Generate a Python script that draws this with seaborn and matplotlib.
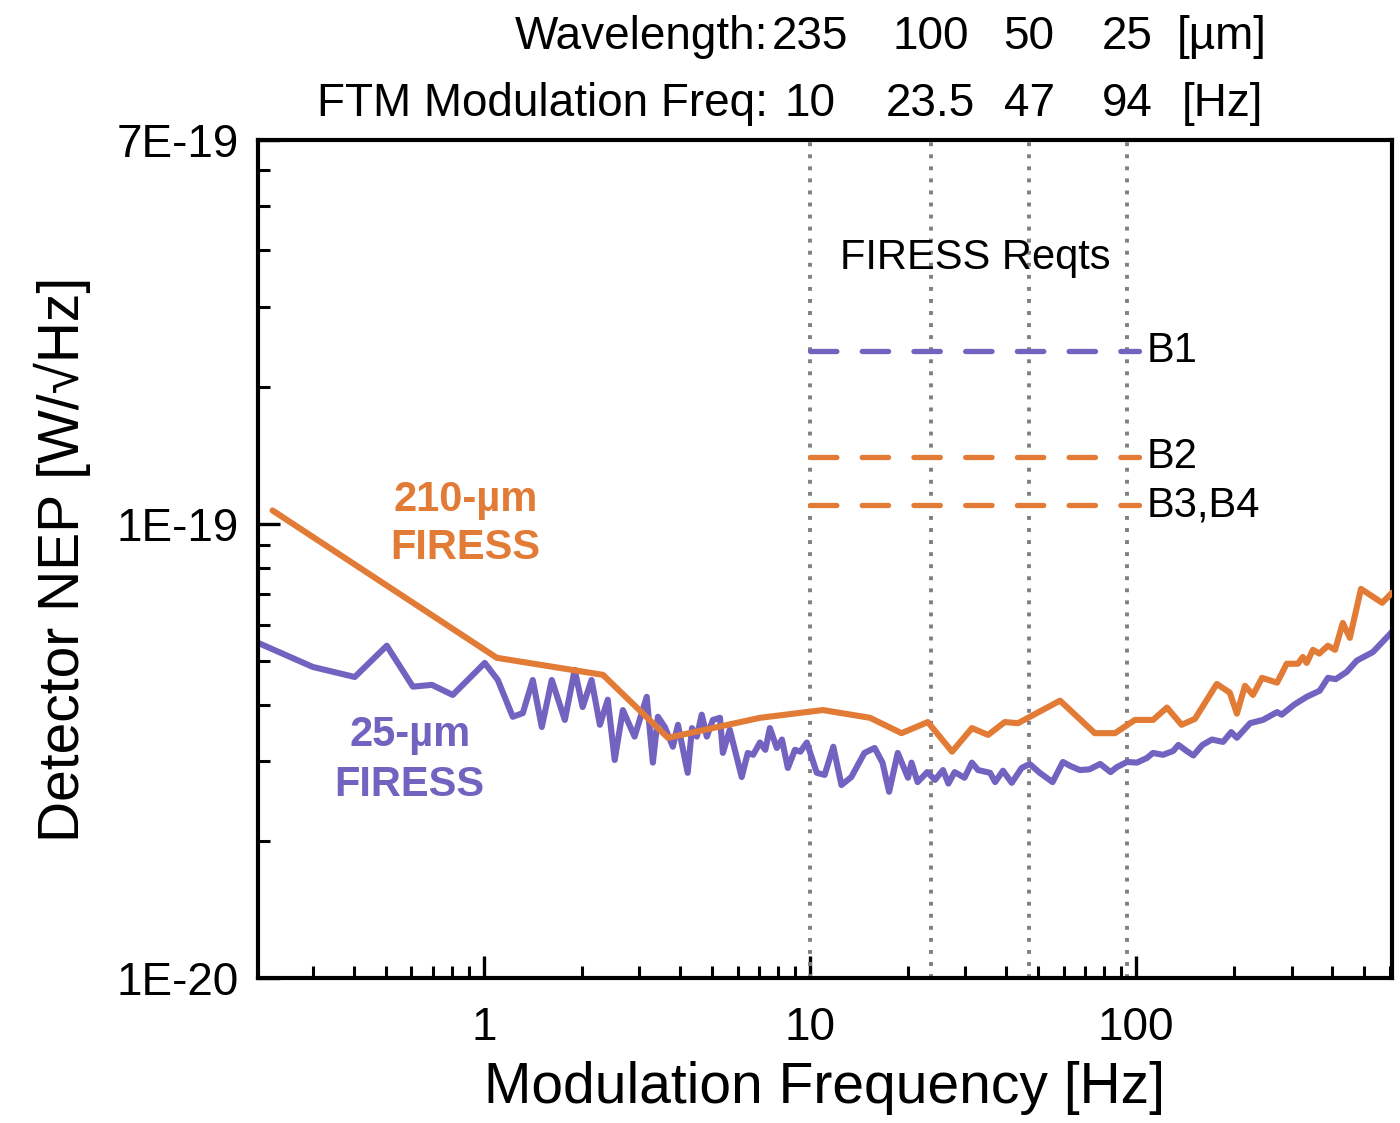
import numpy as np
import pandas as pd
import matplotlib
matplotlib.use("Agg")
import matplotlib.pyplot as plt
import seaborn as sns
from matplotlib.ticker import FixedLocator, FixedFormatter, LogLocator, NullFormatter
import matplotlib.transforms as mtransforms

# ---------------- data ----------------
freq_25um = [0.203, 0.299, 0.402, 0.504, 0.606, 0.693, 0.803, 1.007, 1.104, 1.227,
             1.317, 1.413, 1.506, 1.616, 1.772, 1.90, 2.01, 2.14, 2.27, 2.40,
             2.52, 2.67, 2.90, 3.16, 3.30, 3.42, 3.59, 3.80, 3.94, 4.22,
             4.35, 4.5, 4.66, 4.83, 5.04, 5.30, 5.41, 5.68, 6.18, 6.45,
             6.7, 7.03, 7.3, 7.54, 7.92, 8.21, 8.56, 9.0, 9.35, 9.79,
             10.5, 11.1, 11.8, 12.5, 13.4, 14.7, 15.8, 16.7, 17.5, 18.6,
             20.0, 20.5, 21.4, 22.9, 24.2, 25.6, 26.6, 27.8, 29.8, 31.4,
             32.8, 35.7, 37.0, 39.1, 41.6, 44.6, 47.2, 50.7, 55.5, 59.7,
             62.9, 67.3, 72.0, 77.7, 83.6, 87.2, 93.9, 100.7, 108, 112.8,
             121, 130, 135, 144, 150, 160, 171, 185, 196, 204,
             224, 245, 271, 280, 306, 334, 366, 388, 410, 443,
             476, 533, 610]
nep_25um = [0.547, 0.484, 0.460, 0.539, 0.438, 0.442, 0.420, 0.494, 0.453, 0.376,
            0.383, 0.453, 0.357, 0.453, 0.370, 0.477, 0.395, 0.453, 0.361, 0.410,
            0.302, 0.389, 0.340, 0.416, 0.298, 0.376, 0.357, 0.323, 0.361, 0.283,
            0.355, 0.340, 0.380, 0.340, 0.370, 0.374, 0.313, 0.352, 0.277, 0.313,
            0.310, 0.330, 0.318, 0.355, 0.321, 0.335, 0.290, 0.318, 0.315, 0.330,
            0.283, 0.280, 0.323, 0.266, 0.277, 0.313, 0.321, 0.298, 0.257, 0.313,
            0.276, 0.298, 0.270, 0.284, 0.273, 0.287, 0.268, 0.284, 0.276, 0.298,
            0.287, 0.283, 0.270, 0.286, 0.269, 0.290, 0.296, 0.283, 0.270, 0.299,
            0.293, 0.287, 0.288, 0.296, 0.284, 0.291, 0.299, 0.298, 0.305, 0.313,
            0.310, 0.316, 0.326, 0.315, 0.309, 0.326, 0.335, 0.331, 0.348, 0.338,
            0.364, 0.370, 0.385, 0.380, 0.400, 0.416, 0.429, 0.458, 0.455, 0.472,
            0.500, 0.522, 0.578]

freq_210um = [0.225, 1.096, 2.32, 3.67, 7.03, 10.96, 15.3, 19.1, 23.0, 27.3,
              31.4, 35.2, 39.6, 43.5, 58.5, 74.8, 86.2, 99.3, 112.8, 124.5,
              138, 151.7, 177, 194, 204, 216, 228.5, 243.6, 271, 290,
              314, 325, 334, 349, 365, 388, 408, 431, 453, 490,
              569, 610]
nep_210um = [1.07, 0.507, 0.465, 0.338, 0.374, 0.389, 0.374, 0.346, 0.366, 0.315,
             0.355, 0.343, 0.366, 0.364, 0.408, 0.346, 0.346, 0.370, 0.370, 0.394,
             0.361, 0.372, 0.444, 0.425, 0.382, 0.440, 0.420, 0.458, 0.447, 0.492,
             0.492, 0.509, 0.494, 0.528, 0.518, 0.539, 0.528, 0.605, 0.561, 0.719,
             0.670, 0.705]
nep_scale = 1e-19

req_names = ["B1", "B2", "B3,B4"]
req_levels = [2.40e-19, 1.40e-19, 1.10e-19]
req_range = [10, 102]

ftm_freqs = [10, 23.5, 47, 94]
ftm_freq_labels = ["10", "23.5", "47", "94"]
wavelength_labels = ["235", "100", "50", "25"]

xticks = [1, 10, 100]
xtick_labels = ["1", "10", "100"]
yticks = [1e-20, 1e-19, 7e-19]
ytick_labels = ["1E-20", "1E-19", "7E-19"]

ORANGE = "#E27B36"
PURPLE = "#7362C0"
GRAY = "#808080"

# ---------------- style ----------------
sns.set_theme(style="white")
plt.rcParams["font.family"] = ["Liberation Sans", "DejaVu Sans"]
for k in ["text.color", "axes.labelcolor", "xtick.color", "ytick.color", "axes.edgecolor"]:
    plt.rcParams[k] = "black"

FS_TOP = 33
FS_TICK = 33
FS_LABEL = 41
FS_ANN = 30

fig = plt.figure(figsize=(14, 11.23), dpi=100)
ax = fig.add_axes([258 / 1400, 1 - 978 / 1123, (1392 - 258) / 1400, (978 - 140) / 1123])

df25 = pd.DataFrame({"f": freq_25um, "nep": np.array(nep_25um) * nep_scale})
df210 = pd.DataFrame({"f": freq_210um, "nep": np.array(nep_210um) * nep_scale})

# vertical dotted markers
for fx in ftm_freqs:
    ax.axvline(fx, color=GRAY, lw=2.8, ls=(0, (1, 2.1)), zorder=1)

sns.lineplot(data=df210, x="f", y="nep", ax=ax, color=ORANGE, lw=4.4,
             estimator=None, sort=False, zorder=3)
sns.lineplot(data=df25, x="f", y="nep", ax=ax, color=PURPLE, lw=4.4,
             estimator=None, sort=False, zorder=2)

req_colors = [PURPLE, ORANGE, ORANGE]
for name, lvl, c in zip(req_names, req_levels, req_colors):
    ax.plot(req_range, [lvl, lvl], color=c, lw=3.8, ls=(0, (5.0, 4.8)),
            solid_capstyle="round", dash_capstyle="round", zorder=3)
    ax.text(108, lvl, name, fontsize=FS_ANN, color="black", ha="left", va="center")

ax.text(32.1, 3.85e-19, "FIRESS Reqts", fontsize=FS_ANN, ha="center", va="center")

ax.text(0.88, 1.0e-19, "210-µm\nFIRESS", fontsize=FS_ANN, fontweight="bold",
        color=ORANGE, ha="center", va="center", linespacing=1.25)
ax.text(0.593, 0.302e-19, "25-µm\nFIRESS", fontsize=FS_ANN, fontweight="bold",
        color=PURPLE, ha="center", va="center", linespacing=1.35)

ax.set_xscale("log")
ax.set_yscale("log")
ax.set_xlim(0.203, 610)
ax.set_ylim(1e-20, 7e-19)

ax.xaxis.set_major_locator(FixedLocator(xticks))
ax.xaxis.set_major_formatter(FixedFormatter(xtick_labels))
ax.xaxis.set_minor_locator(LogLocator(base=10, subs=np.arange(2, 10)))
ax.xaxis.set_minor_formatter(NullFormatter())
ax.yaxis.set_major_locator(FixedLocator(yticks))
ax.yaxis.set_major_formatter(FixedFormatter(ytick_labels))
ax.yaxis.set_minor_locator(LogLocator(base=10, subs=np.arange(2, 10)))
ax.yaxis.set_minor_formatter(NullFormatter())

ax.tick_params(which="both", direction="in", top=False, right=False,
               bottom=True, left=True, color="black")
ax.tick_params(which="major", length=16, width=2.4, labelsize=FS_TICK)
ax.tick_params(axis="x", which="major", pad=20)
ax.tick_params(axis="y", which="major", pad=14)
ax.tick_params(which="minor", length=8.5, width=2.2)

for sp in ax.spines.values():
    sp.set_linewidth(3.0)
    sp.set_color("black")
    sp.set_visible(True)

ax.set_xlabel("Modulation Frequency [Hz]", fontsize=FS_LABEL, labelpad=8)
ax.set_ylabel("Detector NEP [W/√Hz]", fontsize=FS_LABEL, labelpad=18)

# top annotation rows
trans = mtransforms.blended_transform_factory(ax.transData, fig.transFigure)
row1_y = 1 - 37 / 1123
row2_y = 1 - 104 / 1123
fig.text(768 / 1400, row1_y, "Wavelength:", fontsize=FS_TOP, ha="right", va="center")
fig.text(768 / 1400, row2_y, "FTM Modulation Freq:", fontsize=FS_TOP, ha="right", va="center")
for fx, wl, fl in zip(ftm_freqs, wavelength_labels, ftm_freq_labels):
    ax.text(fx, row1_y, wl, transform=trans, fontsize=FS_TOP, ha="center", va="center")
    ax.text(fx, row2_y, fl, transform=trans, fontsize=FS_TOP, ha="center", va="center")
fig.text(1222 / 1400, row1_y, "[µm]", fontsize=FS_TOP, ha="center", va="center")
fig.text(1222 / 1400, row2_y, "[Hz]", fontsize=FS_TOP, ha="center", va="center")

fig.savefig("out.png", dpi=100)
